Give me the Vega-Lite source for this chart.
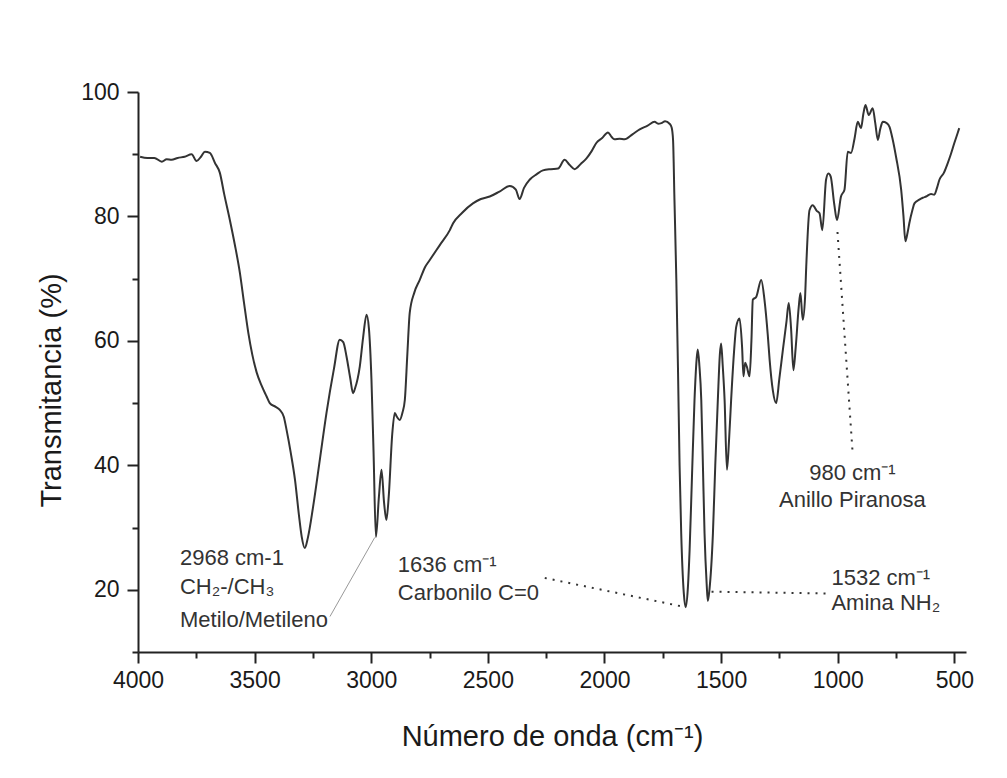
{
  "$schema": "https://vega.github.io/schema/vega-lite/v6.json",
  "autosize": {"type": "none"},
  "padding": {"left": 138, "top": 92, "right": 41, "bottom": 126},
  "width": 828,
  "height": 560,
  "background": "white",
  "config": {
    "view": {"stroke": null},
    "font": "Liberation Sans",
    "axis": {
      "grid": false,
      "domainColor": "#222",
      "domainWidth": 2,
      "tickColor": "#222",
      "tickWidth": 2,
      "labelColor": "#1a1a1a",
      "titleColor": "#1a1a1a",
      "labelFont": "Liberation Sans",
      "titleFont": "Liberation Sans",
      "labelFontSize": 23,
      "titleFontSize": 29,
      "titleFontWeight": "normal"
    }
  },
  "layer": [
    {
      "data": {"values": [
        {"wn": 3991, "T": 89.6}, {"wn": 3960, "T": 89.4}, {"wn": 3930, "T": 89.4}, {"wn": 3898, "T": 88.8},
        {"wn": 3877, "T": 89.2}, {"wn": 3856, "T": 89.1}, {"wn": 3830, "T": 89.4}, {"wn": 3800, "T": 89.6},
        {"wn": 3770, "T": 90.0}, {"wn": 3749, "T": 88.9}, {"wn": 3730, "T": 89.6}, {"wn": 3713, "T": 90.4},
        {"wn": 3692, "T": 90.2}, {"wn": 3670, "T": 88.6}, {"wn": 3649, "T": 87.0}, {"wn": 3630, "T": 83.5},
        {"wn": 3606, "T": 79.4}, {"wn": 3585, "T": 75.5}, {"wn": 3563, "T": 70.9}, {"wn": 3545, "T": 66.0},
        {"wn": 3527, "T": 61.3}, {"wn": 3510, "T": 57.8}, {"wn": 3491, "T": 54.9}, {"wn": 3470, "T": 52.8},
        {"wn": 3449, "T": 51.1}, {"wn": 3435, "T": 50.0}, {"wn": 3410, "T": 49.4}, {"wn": 3392, "T": 48.9},
        {"wn": 3375, "T": 47.8}, {"wn": 3363, "T": 45.7}, {"wn": 3345, "T": 42.0}, {"wn": 3327, "T": 37.7},
        {"wn": 3310, "T": 32.0}, {"wn": 3298, "T": 28.5}, {"wn": 3285, "T": 26.7}, {"wn": 3272, "T": 28.3},
        {"wn": 3249, "T": 33.4}, {"wn": 3220, "T": 41.0}, {"wn": 3192, "T": 48.4}, {"wn": 3160, "T": 55.5},
        {"wn": 3135, "T": 60.2}, {"wn": 3120, "T": 59.8}, {"wn": 3106, "T": 57.5}, {"wn": 3090, "T": 54.0},
        {"wn": 3078, "T": 51.6}, {"wn": 3070, "T": 52.3}, {"wn": 3049, "T": 55.9}, {"wn": 3035, "T": 60.5},
        {"wn": 3020, "T": 64.2}, {"wn": 3010, "T": 62.0}, {"wn": 2999, "T": 53.7}, {"wn": 2990, "T": 42.0},
        {"wn": 2980, "T": 28.5}, {"wn": 2967, "T": 35.0}, {"wn": 2956, "T": 39.3}, {"wn": 2945, "T": 34.0},
        {"wn": 2935, "T": 31.2}, {"wn": 2925, "T": 35.0}, {"wn": 2910, "T": 45.0}, {"wn": 2899, "T": 48.4},
        {"wn": 2890, "T": 47.8}, {"wn": 2878, "T": 47.3}, {"wn": 2866, "T": 48.5}, {"wn": 2856, "T": 50.5},
        {"wn": 2845, "T": 58.0}, {"wn": 2835, "T": 64.5}, {"wn": 2815, "T": 67.8}, {"wn": 2792, "T": 69.8},
        {"wn": 2770, "T": 71.8}, {"wn": 2749, "T": 73.0}, {"wn": 2706, "T": 75.4}, {"wn": 2663, "T": 77.8},
        {"wn": 2649, "T": 78.9}, {"wn": 2610, "T": 80.6}, {"wn": 2564, "T": 82.1}, {"wn": 2530, "T": 82.8},
        {"wn": 2492, "T": 83.2}, {"wn": 2450, "T": 84.0}, {"wn": 2406, "T": 84.9}, {"wn": 2380, "T": 84.3},
        {"wn": 2364, "T": 82.8}, {"wn": 2345, "T": 84.6}, {"wn": 2321, "T": 85.9}, {"wn": 2290, "T": 86.8},
        {"wn": 2264, "T": 87.4}, {"wn": 2230, "T": 87.6}, {"wn": 2199, "T": 87.7}, {"wn": 2171, "T": 89.1},
        {"wn": 2150, "T": 88.3}, {"wn": 2128, "T": 87.6}, {"wn": 2100, "T": 88.5}, {"wn": 2078, "T": 89.3},
        {"wn": 2055, "T": 90.5}, {"wn": 2035, "T": 91.8}, {"wn": 2010, "T": 92.6}, {"wn": 1985, "T": 93.5},
        {"wn": 1970, "T": 92.8}, {"wn": 1957, "T": 92.4}, {"wn": 1935, "T": 92.5}, {"wn": 1914, "T": 92.4},
        {"wn": 1880, "T": 93.2}, {"wn": 1849, "T": 94.0}, {"wn": 1815, "T": 94.6}, {"wn": 1785, "T": 95.2},
        {"wn": 1770, "T": 94.9}, {"wn": 1756, "T": 95.0}, {"wn": 1740, "T": 95.3}, {"wn": 1721, "T": 94.9},
        {"wn": 1712, "T": 94.3}, {"wn": 1706, "T": 92.3}, {"wn": 1700, "T": 82.7}, {"wn": 1692, "T": 70.0},
        {"wn": 1685, "T": 55.9}, {"wn": 1678, "T": 40.0}, {"wn": 1671, "T": 29.1}, {"wn": 1660, "T": 19.5},
        {"wn": 1652, "T": 17.2}, {"wn": 1643, "T": 20.0}, {"wn": 1635, "T": 26.4}, {"wn": 1625, "T": 38.0},
        {"wn": 1614, "T": 50.5}, {"wn": 1605, "T": 57.0}, {"wn": 1600, "T": 58.6}, {"wn": 1593, "T": 56.0},
        {"wn": 1585, "T": 50.5}, {"wn": 1578, "T": 40.0}, {"wn": 1571, "T": 29.1}, {"wn": 1562, "T": 21.0},
        {"wn": 1557, "T": 18.2}, {"wn": 1550, "T": 20.0}, {"wn": 1535, "T": 29.1}, {"wn": 1525, "T": 40.0},
        {"wn": 1514, "T": 50.5}, {"wn": 1505, "T": 58.0}, {"wn": 1500, "T": 59.6}, {"wn": 1493, "T": 56.0},
        {"wn": 1485, "T": 50.5}, {"wn": 1475, "T": 39.3}, {"wn": 1466, "T": 44.0}, {"wn": 1457, "T": 50.5},
        {"wn": 1445, "T": 58.0}, {"wn": 1435, "T": 62.3}, {"wn": 1421, "T": 63.6}, {"wn": 1410, "T": 59.0},
        {"wn": 1404, "T": 54.3}, {"wn": 1397, "T": 56.5}, {"wn": 1390, "T": 55.9}, {"wn": 1378, "T": 54.3},
        {"wn": 1370, "T": 60.0}, {"wn": 1364, "T": 66.6}, {"wn": 1349, "T": 67.1}, {"wn": 1328, "T": 69.8},
        {"wn": 1314, "T": 66.6}, {"wn": 1300, "T": 61.0}, {"wn": 1292, "T": 57.0}, {"wn": 1278, "T": 52.0},
        {"wn": 1264, "T": 50.0}, {"wn": 1250, "T": 54.0}, {"wn": 1235, "T": 58.6}, {"wn": 1220, "T": 63.0},
        {"wn": 1210, "T": 66.1}, {"wn": 1200, "T": 62.0}, {"wn": 1190, "T": 55.3}, {"wn": 1180, "T": 59.0},
        {"wn": 1167, "T": 65.5}, {"wn": 1160, "T": 67.7}, {"wn": 1150, "T": 63.4}, {"wn": 1140, "T": 67.0},
        {"wn": 1135, "T": 71.9}, {"wn": 1121, "T": 81.0}, {"wn": 1107, "T": 81.8}, {"wn": 1090, "T": 80.9},
        {"wn": 1078, "T": 80.5}, {"wn": 1066, "T": 77.8}, {"wn": 1050, "T": 85.9}, {"wn": 1040, "T": 86.9},
        {"wn": 1030, "T": 86.4}, {"wn": 1015, "T": 82.0}, {"wn": 1003, "T": 79.4}, {"wn": 986, "T": 83.2},
        {"wn": 971, "T": 84.3}, {"wn": 957, "T": 90.4}, {"wn": 943, "T": 90.2}, {"wn": 928, "T": 92.5},
        {"wn": 914, "T": 95.2}, {"wn": 900, "T": 94.2}, {"wn": 890, "T": 96.5}, {"wn": 881, "T": 97.9},
        {"wn": 867, "T": 96.3}, {"wn": 850, "T": 97.4}, {"wn": 839, "T": 95.0}, {"wn": 828, "T": 92.3},
        {"wn": 818, "T": 94.0}, {"wn": 807, "T": 95.2}, {"wn": 790, "T": 95.0}, {"wn": 778, "T": 94.4},
        {"wn": 765, "T": 92.5}, {"wn": 750, "T": 89.6}, {"wn": 728, "T": 84.3}, {"wn": 718, "T": 80.0},
        {"wn": 710, "T": 76.0}, {"wn": 700, "T": 77.5}, {"wn": 693, "T": 78.9}, {"wn": 680, "T": 81.0},
        {"wn": 671, "T": 82.1}, {"wn": 650, "T": 82.7}, {"wn": 635, "T": 83.0}, {"wn": 621, "T": 83.2},
        {"wn": 600, "T": 83.6}, {"wn": 586, "T": 83.5}, {"wn": 575, "T": 84.5}, {"wn": 564, "T": 85.9},
        {"wn": 545, "T": 87.0}, {"wn": 529, "T": 88.5}, {"wn": 515, "T": 90.0}, {"wn": 500, "T": 91.8},
        {"wn": 485, "T": 93.5}, {"wn": 479, "T": 94.2}
      ]},
      "mark": {"type": "line", "color": "#333", "strokeWidth": 2, "interpolate": "monotone", "clip": true},
      "encoding": {
        "x": {
          "field": "wn", "type": "quantitative",
          "scale": {"domain": [450, 4000], "reverse": true, "nice": false, "zero": false},
          "axis": {
            "title": "Número de onda (cm⁻¹)",
            "values": [500, 750, 1000, 1250, 1500, 1750, 2000, 2250, 2500, 2750, 3000, 3250, 3500, 3750, 4000],
            "labelExpr": "datum.value % 500 === 0 ? datum.value : ''",
            "tickSize": {"condition": {"test": "datum.value % 500 === 0", "value": 11}, "value": 6},
            "labelPadding": 6,
            "labelFlush": false,
            "labelOverlap": false,
            "titlePadding": 30
          }
        },
        "y": {
          "field": "T", "type": "quantitative",
          "scale": {"domain": [10, 100], "nice": false, "zero": false},
          "axis": {
            "title": "Transmitancia (%)",
            "values": [10, 20, 30, 40, 50, 60, 70, 80, 90, 100],
            "labelExpr": "datum.value % 20 === 0 ? datum.value : ''",
            "tickSize": {"condition": {"test": "datum.value % 20 === 0", "value": 11}, "value": 6},
            "labelPadding": 8,
            "labelFlush": false,
            "labelOverlap": false,
            "titlePadding": 14,
            "titleY": 298
          }
        }
      }
    },
    {
      "data": {"values": [{"x1": 3177, "y1": 15.7, "x2": 2985, "y2": 28.4}]},
      "mark": {"type": "rule", "color": "#999", "strokeWidth": 1},
      "encoding": {
        "x": {"field": "x1", "type": "quantitative"},
        "y": {"field": "y1", "type": "quantitative"},
        "x2": {"field": "x2"},
        "y2": {"field": "y2"}
      }
    },
    {
      "data": {"values": [
        {"x1": 2256, "y1": 21.9, "x2": 1665, "y2": 17.3},
        {"x1": 1541, "y1": 19.7, "x2": 1035, "y2": 19.4},
        {"x1": 1001, "y1": 77.5, "x2": 937, "y2": 42.5}
      ]},
      "mark": {"type": "rule", "color": "#333", "strokeWidth": 2, "strokeDash": [2, 6]},
      "encoding": {
        "x": {"field": "x1", "type": "quantitative"},
        "y": {"field": "y1", "type": "quantitative"},
        "x2": {"field": "x2"},
        "y2": {"field": "y2"}
      }
    },
    {
      "data": {"values": [
        {"x": 3820, "y": 25.1, "label": "2968 cm-1"},
        {"x": 3820, "y": 20.5, "label": "CH₂-/CH₃"},
        {"x": 3820, "y": 15.2, "label": "Metilo/Metileno"},
        {"x": 2886, "y": 24.0, "label": "1636 cm⁻¹"},
        {"x": 2886, "y": 19.5, "label": "Carbonilo C=0"},
        {"x": 1027, "y": 21.9, "label": "1532 cm⁻¹"},
        {"x": 1027, "y": 17.8, "label": "Amina NH₂"}
      ]},
      "mark": {"type": "text", "align": "left", "baseline": "middle", "fontSize": 22, "color": "#333", "font": "Liberation Sans"},
      "encoding": {
        "x": {"field": "x", "type": "quantitative"},
        "y": {"field": "y", "type": "quantitative"},
        "text": {"field": "label"}
      }
    },
    {
      "data": {"values": [
        {"x": 937, "y": 38.8, "label": "980 cm⁻¹"},
        {"x": 937, "y": 34.5, "label": "Anillo Piranosa"}
      ]},
      "mark": {"type": "text", "align": "center", "baseline": "middle", "fontSize": 22, "color": "#333", "font": "Liberation Sans"},
      "encoding": {
        "x": {"field": "x", "type": "quantitative"},
        "y": {"field": "y", "type": "quantitative"},
        "text": {"field": "label"}
      }
    }
  ]
}
